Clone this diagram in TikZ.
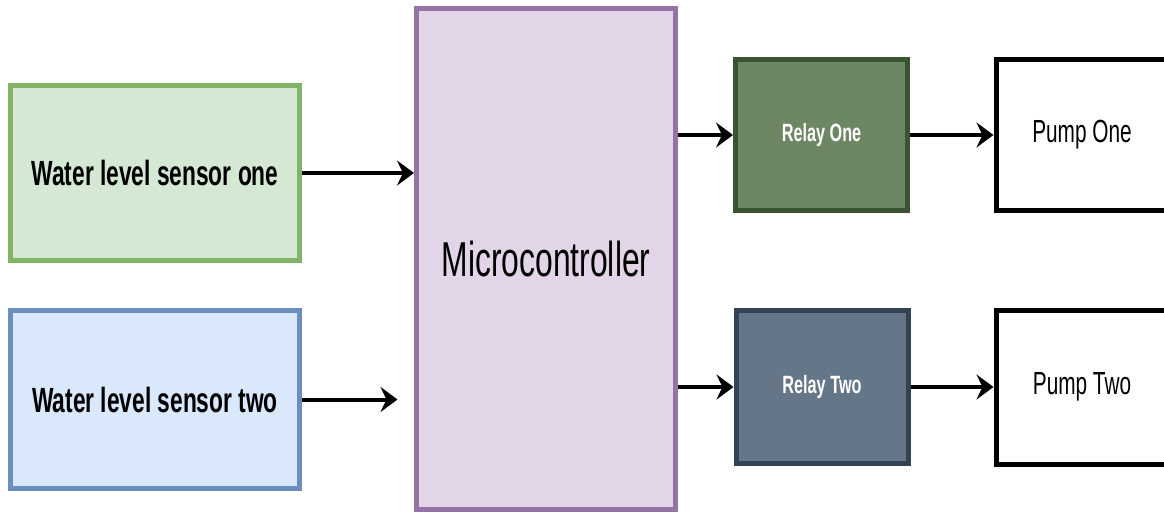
\documentclass[tikz,border=0pt]{standalone}
\usepackage{fontspec}
\setmainfont{Liberation Sans}[FakeStretch=0.65]
\usetikzlibrary{arrows.meta}
\definecolor{s1fill}{HTML}{D5E8D4}\definecolor{s1draw}{HTML}{82B366}
\definecolor{s2fill}{HTML}{DAE8FC}\definecolor{s2draw}{HTML}{6C8EBF}
\definecolor{mcfill}{HTML}{E1D5E7}\definecolor{mcdraw}{HTML}{9673A6}
\definecolor{r1fill}{HTML}{6D8764}\definecolor{r1draw}{HTML}{3A5431}
\definecolor{r2fill}{HTML}{647687}\definecolor{r2draw}{HTML}{314354}
\tikzset{
  blk/.style={draw, line width=5pt, rectangle, inner sep=0pt, align=center},
  sensorbox/.style={blk, minimum width=289pt, font=\fontsize{35}{40}\selectfont\bfseries},
  relaybox/.style={blk, minimum width=172pt, minimum height=151pt, text=white, font=\fontsize{25}{30}\selectfont\bfseries},
  pumpbox/.style={blk, draw=black, fill=white, minimum width=172pt, minimum height=151pt, font=\fontsize{32}{36}\selectfont},
  arr/.style={line width=4pt, -{Stealth[length=17pt, width=25pt, inset=6pt]}}
}
\begin{document}
\begin{tikzpicture}[x=1pt, y=-1pt]
\useasboundingbox (0,0) rectangle (1164,514);
\node[sensorbox, fill=s1fill, draw=s1draw, minimum height=175pt] (s1) at (155,173) {Water level sensor one};
\node[sensorbox, fill=s2fill, draw=s2draw, minimum height=178pt] (s2) at (155,399.5) {Water level sensor two};
\node[blk, fill=mcfill, draw=mcdraw, minimum width=259pt, minimum height=501pt, font=\fontsize{49}{54}\selectfont] (mc) at (546,259) {Microcontroller};
\node[relaybox, fill=r1fill, draw=r1draw] (r1) at (821.5,135) {Relay One};
\node[relaybox, fill=r2fill, draw=r2draw, minimum height=153pt] (r2) at (822,387) {Relay Two};
\node[pumpbox] (p1) at (1082,135) {Pump One};
\node[pumpbox, minimum height=154pt] (p2) at (1082,387) {Pump Two};
\draw[arr] (s1.east) -- (s1.east -| mc.west);
\draw[arr, shorten >=16.5pt] (s2.east) -- (s2.east -| mc.west);
\draw[arr] (mc.east |- r1.west) -- (r1.west);
\draw[arr] (mc.east |- r2.west) -- (r2.west);
\draw[arr] (r1.east) -- (p1.west);
\draw[arr] (r2.east) -- (p2.west);
\end{tikzpicture}
\end{document}
